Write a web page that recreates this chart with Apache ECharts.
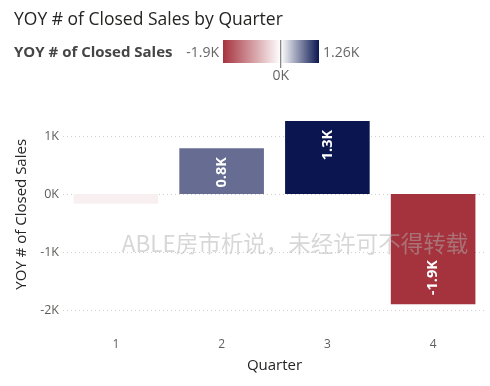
<!DOCTYPE html>
<html><head><meta charset="utf-8">
<script src="https://cdn.jsdelivr.net/npm/echarts@6/dist/echarts.min.js"></script>
<style>html,body{margin:0;padding:0;background:#fff}#c{width:490px;height:386px}</style>
</head><body><div id="c"></div>
<script>
const quarters = ['1', '2', '3', '4'];
const yoyValues = [-170, 790, 1260, -1900];
const yTicks = [-2000, -1000, 0, 1000];
const legendMin = -1900, legendMax = 1260;
const title = 'YOY # of Closed Sales by Quarter';
const seriesName = 'YOY # of Closed Sales';
const watermark = 'ABLE房市析说，未经许可不得转载';

const FONT = '"Open Sans", "Noto Sans", sans-serif';
const RED = '#A5333E', NAVY = '#0B1651';
const chart = echarts.init(document.getElementById('c'));
const fmtK = v => (v / 1000).toFixed(1).replace(/\.0$/, '') + 'K';

// legend gradient geometry
const gx = 223, gy = 40, gw = 96, gh = 23;
const zeroFrac = (0 - legendMin) / (legendMax - legendMin);

chart.setOption({
  animation: false,
  textStyle: { fontFamily: FONT },
  title: {
    text: title, left: 9, top: 6,
    textStyle: { fontFamily: FONT, fontSize: 17.5, fontWeight: 'normal', color: '#252423' }
  },
  visualMap: {
    show: false, type: 'continuous', min: legendMin, max: legendMax, seriesIndex: 0,
    inRange: { color: [RED, '#C98A90', '#E4C4C7', '#FFFFFF', '#858AA8', NAVY] }
  },
  grid: { left: 63, right: 4, top: 118.6, bottom: 76 },
  xAxis: {
    type: 'category', data: quarters,
    name: 'Quarter', nameLocation: 'middle', nameGap: 48,
    nameTextStyle: { fontFamily: FONT, fontSize: 15, color: '#252423' },
    axisLine: { show: false }, axisTick: { show: false },
    axisLabel: { margin: 29, fontSize: 12, color: '#605E5C', fontFamily: FONT }
  },
  yAxis: {
    type: 'value', min: yTicks[0], max: 1300, interval: 1000,
    name: seriesName, nameLocation: 'middle', nameGap: 30, nameRotate: 90,
    nameTextStyle: { fontFamily: FONT, fontSize: 15, color: '#252423' },
    axisLine: { show: false }, axisTick: { show: false },
    axisLabel: { margin: 4, fontSize: 12.5, color: '#605E5C', fontFamily: FONT,
      formatter: v => (yTicks.indexOf(v) >= 0 ? fmtK(v) : '') },
    splitLine: { show: true, showMaxLine: false, lineStyle: { color: '#D0D0D0', type: [1, 3], width: 1 } }
  },
  series: [{
    type: 'bar', name: seriesName, barCategoryGap: '20%',
    data: yoyValues.map(v => ({
      value: v,
      label: {
        show: Math.abs(v) > 400,
        position: v >= 0 ? 'insideTop' : 'insideBottom',
        align: v >= 0 ? 'right' : 'left'
      }
    })),
    label: {
      rotate: 90, verticalAlign: 'middle', distance: 9,
      color: '#fff', fontWeight: 'bold', fontSize: 14.5, fontFamily: FONT,
      formatter: p => fmtK(p.value)
    }
  }],
  graphic: [
    { type: 'text', x: 14, y: 53, style: { text: seriesName, fontFamily: FONT, fontSize: 15, fontWeight: 'bold', fill: '#454545', verticalAlign: 'middle' } },
    { type: 'text', x: 219, y: 53, style: { text: fmtK(legendMin), fontFamily: FONT, fontSize: 14, fill: '#666', align: 'right', verticalAlign: 'middle' } },
    { type: 'rect', shape: { x: gx, y: gy, width: gw, height: gh },
      style: { fill: new echarts.graphic.LinearGradient(0, 0, 1, 0, [
        { offset: 0, color: RED }, { offset: zeroFrac, color: '#FFFFFF' }, { offset: 1, color: NAVY }]) } },
    { type: 'line', shape: { x1: gx + gw * zeroFrac, y1: gy, x2: gx + gw * zeroFrac, y2: gy + gh + 5 }, style: { stroke: '#666', lineWidth: 1 } },
    { type: 'text', x: 323, y: 53, style: { text: '1.26K', fontFamily: FONT, fontSize: 14, fill: '#666', verticalAlign: 'middle' } },
    { type: 'text', x: gx + gw * zeroFrac, y: 76, style: { text: '0K', fontFamily: FONT, fontSize: 14, fill: '#666', align: 'center', verticalAlign: 'middle' } },
    { type: 'text', x: 295, y: 243, z: 100, style: { text: watermark, fontFamily: '"Noto Sans CJK SC", sans-serif', fontSize: 22.5, fill: 'rgba(175,175,175,0.5)', align: 'center', verticalAlign: 'middle' } }
  ]
});
</script></body></html>
